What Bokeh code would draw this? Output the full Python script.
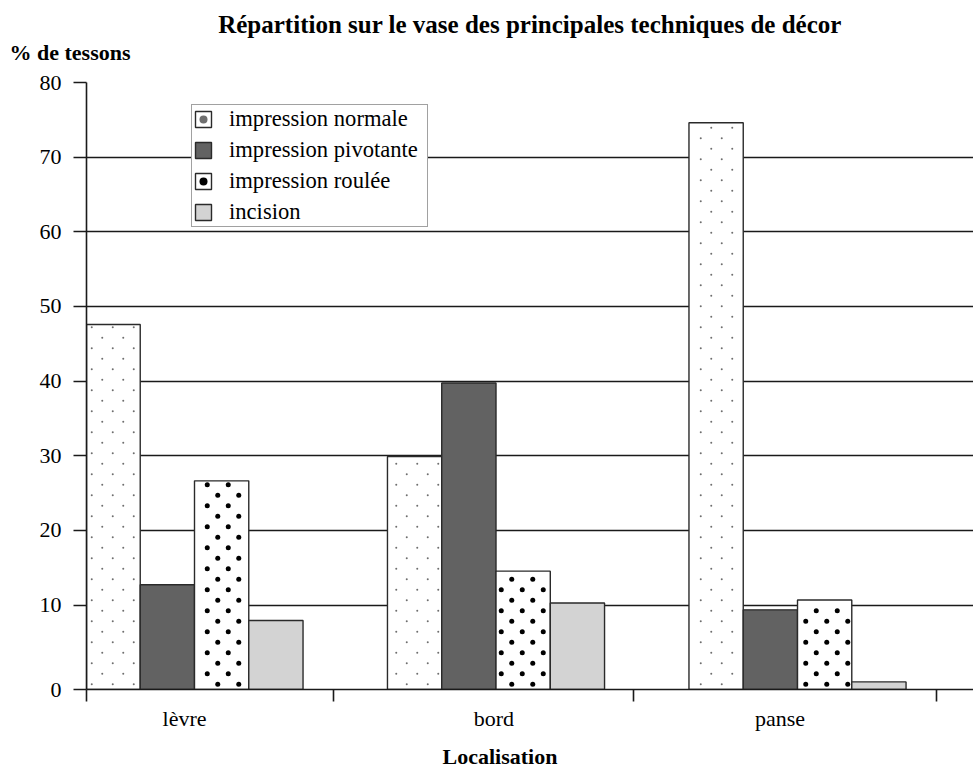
from bokeh.plotting import figure
from bokeh.models import (Range1d, LinearAxis, FixedTicker, Grid, Legend, LegendItem,
                          Title, CustomJSTickFormatter, ColumnDataSource)
from bokeh.embed import file_html
from bokeh.resources import INLINE

# ---------------- data ----------------
CATEGORIES = ["lèvre", "bord", "panse"]
SERIES = ["impression normale", "impression pivotante", "impression roulée", "incision"]
NORMALE = [48.1, 30.7, 74.7]
PIVOTANTE = [13.8, 40.4, 10.5]
ROULEE = [27.5, 15.6, 11.8]
INCISION = [9.1, 11.4, 1.0]
Y_TICKS = [10, 20, 30, 40, 50, 60, 70, 80]
TITLE = "Répartition sur le vase des principales techniques de décor"
Y_LABEL = "% de tessons"
X_LABEL = "Localisation"

SERIES_VALUES = [NORMALE, PIVOTANTE, ROULEE, INCISION]

# ---------------- layout ----------------
FONT = "Liberation Serif"
W, H = 973, 768
BL, BT, BB = 86, 82, 79                      # borders around the plot frame
CENTERS = [i + 0.5 for i in range(len(CATEGORIES))]
LABEL_POS = [0.467, 1.493, 2.442]             # category label anchors
X_START, X_END = 0.1418, 3.0837
SEPS = [0.961, 1.956, 2.961]
GRID_START = -1.32                            # grid/axis scale at frame bottom
OFFSETS = [-0.27, -0.09, 0.09, 0.27]
BAR_W = 0.18
PXX = (W - BL) / (X_END - X_START)            # px per x unit
PXY = (H - BT - BB) / 80.0                    # px per y unit

p = figure(width=W, height=H, title=None,
           x_range=Range1d(X_START, X_END), y_range=Range1d(0, 80),
           x_axis_type=None, y_axis_type=None,
           toolbar_location=None, output_backend="svg",
           min_border_left=BL, min_border_right=0,
           min_border_top=BT, min_border_bottom=BB)
p.extra_y_ranges = {"grid": Range1d(GRID_START, 80)}
p.outline_line_color = None
p.background_fill_color = "white"
p.border_fill_color = "white"

INK = "#1a1a1a"

# y axis + grid
yticker = FixedTicker(ticks=[GRID_START] + Y_TICKS)
yaxis = LinearAxis(y_range_name="grid", ticker=yticker,
                   formatter=CustomJSTickFormatter(args=dict(s=GRID_START),
                       code="return (tick <= s + 0.001) ? '0' : tick.toFixed(0);"))
yaxis.major_tick_out = 13
yaxis.major_tick_in = 0
yaxis.minor_tick_line_color = None
yaxis.major_label_standoff = 12
yaxis.major_label_text_font = FONT
yaxis.major_label_text_font_size = "22px"
yaxis.major_label_text_color = "black"
yaxis.axis_line_color = INK
yaxis.axis_line_width = 1.6
yaxis.major_tick_line_color = INK
yaxis.major_tick_line_width = 1.6
p.add_layout(yaxis, "left")

grid = Grid(dimension=1, ticker=yticker, y_range_name="grid",
            grid_line_color=INK, grid_line_width=1.5)
p.add_layout(grid)

# x axis
xaxis = LinearAxis(ticker=FixedTicker(ticks=LABEL_POS, minor_ticks=[X_START] + SEPS),
                   formatter=CustomJSTickFormatter(args=dict(cats=CATEGORIES),
                       code="return cats[index];"))
xaxis.major_tick_out = 0
xaxis.major_tick_in = 0
xaxis.major_tick_line_color = None
xaxis.minor_tick_out = 12
xaxis.minor_tick_in = 0
xaxis.minor_tick_line_color = INK
xaxis.minor_tick_line_width = 1.6
xaxis.major_label_standoff = 4
xaxis.major_label_text_font = FONT
xaxis.major_label_text_font_size = "22px"
xaxis.major_label_text_color = "black"
xaxis.axis_line_color = INK
xaxis.axis_line_width = 1.6
p.add_layout(xaxis, "below")


def lattice(left, right, top, step_px, inset_px):
    """Staggered dot lattice (pattern fill) inside one bar, in data units."""
    dx = step_px / PXX
    dy = step_px / 2.0 / PXY
    ix, iy = inset_px / PXX, inset_px / PXY
    xs, ys = [], []
    j = 0
    while True:
        y = (j + 0.5) * dy
        if y > top - iy:
            break
        if y >= iy:
            phase = 0.5 * dx if j % 2 else 0.0
            k = int((left - X_START) / dx) - 1
            while True:
                x = X_START + k * dx + phase + 0.25 * dx
                if x > right - ix:
                    break
                if x >= left + ix:
                    xs.append(x)
                    ys.append(y)
                k += 1
        j += 1
    return xs, ys


STYLES = [
    dict(fill_color="white", dots=dict(color="#6e6e6e", size=2.0, step=21, inset=2)),
    dict(fill_color="#626262", dots=None),
    dict(fill_color="white", dots=dict(color="black", size=5.0, step=21, inset=2.5)),
    dict(fill_color="#d3d3d3", dots=None),
]

items = []
for name, vals, off, st in zip(SERIES, SERIES_VALUES, OFFSETS, STYLES):
    xs = [c + off for c in CENTERS]
    src = ColumnDataSource(dict(x=xs, top=vals))
    r = p.vbar(x="x", top="top", bottom=0, width=BAR_W, source=src,
               fill_color=st["fill_color"], line_color="#2a2a2a", line_width=1.4)
    rends = [r]
    d = st["dots"]
    if d:
        dx_all, dy_all = [], []
        for x, v in zip(xs, vals):
            a, b = lattice(x - BAR_W / 2, x + BAR_W / 2, v, d["step"], d["inset"])
            dx_all += a
            dy_all += b
        sr = p.scatter(dx_all, dy_all, size=d["size"], marker="circle",
                       fill_color=d["color"], line_color=None)
        rends.append(sr)
    items.append(LegendItem(label=name, renderers=rends))

legend = Legend(items=items, location=(105, 462), orientation="vertical",
                glyph_width=20, glyph_height=20, label_standoff=16,
                label_width=197, padding=1, spacing=5, margin=0,
                border_line_color="#444444", border_line_width=1.2,
                background_fill_color="white", background_fill_alpha=1.0,
                label_text_font=FONT, label_text_font_size="22.6px",
                label_text_color="black")
p.add_layout(legend)


def spacer(size):
    """Invisible axis (one white tick at the far right edge, no label) used
    only to reserve vertical space in a side panel."""
    return LinearAxis(ticker=FixedTicker(ticks=[X_END]),
                      formatter=CustomJSTickFormatter(code="return '';"),
                      axis_line_color=None,
                      major_tick_out=size, major_tick_in=0,
                      major_tick_line_color="white", major_tick_line_width=1,
                      minor_tick_out=0, minor_tick_in=0, minor_tick_line_color=None,
                      major_label_standoff=0, major_label_text_font_size="1px",
                      major_label_text_color="white")


# texts outside the frame (stacked from the frame outwards)
p.add_layout(spacer(18), "above")
t_y = Title(text=Y_LABEL, align="left", offset=-77, standoff=0,
            text_font=FONT, text_font_style="bold", text_font_size="22px",
            text_color="black")
p.add_layout(t_y, "above")
t_main = Title(text=TITLE, align="center", standoff=0,
               text_font=FONT, text_font_style="bold", text_font_size="25px",
               text_color="black")
p.add_layout(t_main, "above")

p.add_layout(spacer(8), "below")
t_x = Title(text=X_LABEL, align="left", offset=356, standoff=0,
            text_font=FONT, text_font_style="bold", text_font_size="22px",
            text_color="black")
p.add_layout(t_x, "below")

open("out.html", "w").write(file_html(p, INLINE))
